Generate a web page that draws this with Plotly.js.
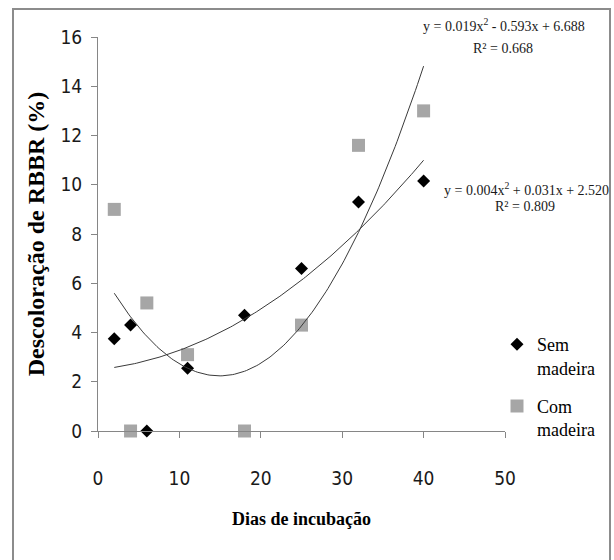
<!DOCTYPE html>
<html>
<head>
<meta charset="utf-8">
<script src="https://cdn.plot.ly/plotly-3.0.1.min.js"></script>
<style>
  html, body { margin: 0; padding: 0; background: #ffffff; }
  #chart { width: 614px; height: 560px; }
</style>
</head>
<body>
<div id="chart"></div>
<script>
// ---- Data ----
const dias = [2, 4, 6, 11, 18, 25, 32, 40];
const semMadeira = [3.75, 4.3, 0, 2.55, 4.7, 6.6, 9.3, 10.15];
const comMadeira = [9.0, 0, 5.2, 3.1, 0, 4.3, 11.6, 13.0];
const seriesNames = ['Sem<br>madeira', 'Com<br>madeira'];
const eqCom = ['y = 0.019x<sup>2</sup> - 0.593x + 6.688', 'R² = 0.668'];
const eqSem = ['y = 0.004x<sup>2</sup> + 0.031x + 2.520', 'R² = 0.809'];
const xTicks = [0, 10, 20, 30, 40, 50];
const yTicks = [0, 2, 4, 6, 8, 10, 12, 14, 16];

// quadratic least-squares fit (Excel polynomial trendline, order 2)
function polyFit2(xs, ys) {
  let S = [0, 0, 0, 0, 0], T = [0, 0, 0];
  for (let i = 0; i < xs.length; i++) {
    let p = 1;
    for (let k = 0; k < 5; k++) { S[k] += p; if (k < 3) T[k] += p * ys[i]; p *= xs[i]; }
  }
  const A = [[S[0], S[1], S[2], T[0]], [S[1], S[2], S[3], T[1]], [S[2], S[3], S[4], T[2]]];
  for (let c = 0; c < 3; c++) {
    for (let r = c + 1; r < 3; r++) {
      const f = A[r][c] / A[c][c];
      for (let k = c; k < 4; k++) A[r][k] -= f * A[c][k];
    }
  }
  const sol = [0, 0, 0];
  for (let r = 2; r >= 0; r--) {
    let s = A[r][3];
    for (let k = r + 1; k < 3; k++) s -= A[r][k] * sol[k];
    sol[r] = s / A[r][r];
  }
  return sol; // [c, b, a]
}
function trend(xs, ys) {
  const co = polyFit2(xs, ys);
  const x0 = Math.min(...xs), x1 = Math.max(...xs);
  const tx = [], ty = [];
  for (let x = x0; x <= x1 + 1e-9; x += 0.25) {
    tx.push(x); ty.push(co[0] + co[1] * x + co[2] * x * x);
  }
  return { tx, ty };
}
const tSem = trend(dias, semMadeira);
const tCom = trend(dias, comMadeira);

const serif = 'Liberation Serif, Times New Roman, serif';
const narrow = 'Liberation Sans Narrow, DejaVu Sans Condensed, Arial Narrow, sans-serif';

const traces = [
  { x: dias, y: semMadeira, type: 'scatter', mode: 'markers', name: seriesNames[0],
    legendgroup: 'a', cliponaxis: false,
    marker: { symbol: 'diamond', size: 10, color: '#000000' } },
  { x: dias, y: comMadeira, type: 'scatter', mode: 'markers', name: seriesNames[1],
    legendgroup: 'b', cliponaxis: false,
    marker: { symbol: 'square', size: 13, color: '#a6a6a6' } },
  { x: tSem.tx, y: tSem.ty, type: 'scatter', mode: 'lines', showlegend: false,
    line: { color: '#3a3a3a', width: 1 }, hoverinfo: 'skip' },
  { x: tCom.tx, y: tCom.ty, type: 'scatter', mode: 'lines', showlegend: false,
    line: { color: '#3a3a3a', width: 1 }, hoverinfo: 'skip' }
];

// plot area in pixels: x 98..505, y 37..431
const L = 98, R = 505, T = 37, B = 431, W = 614, H = 560;
const px = (p) => (p - L) / (R - L);
const py = (p) => (B - p) / (B - T);

const layout = {
  width: W, height: H,
  margin: { l: L, r: W - R, t: T, b: H - B, pad: 0 },
  paper_bgcolor: '#ffffff', plot_bgcolor: '#ffffff',
  showlegend: true,
  xaxis: {
    range: [0, 50], tickvals: xTicks, ticktext: xTicks.map(String),
    showgrid: false, zeroline: false, showline: true, linecolor: '#868686', linewidth: 1,
    ticks: 'outside', ticklen: 6, tickcolor: '#868686', ticklabelstandoff: 24,
    tickfont: { family: narrow, size: 19, color: '#1a1a1a' },
    title: { text: '<b>Dias de incubação</b>', font: { family: serif, size: 18, color: '#000000' }, standoff: 24 },
    fixedrange: true
  },
  yaxis: {
    range: [0, 16], tickvals: yTicks, ticktext: yTicks.map(String),
    showgrid: false, zeroline: false, showline: true, linecolor: '#868686', linewidth: 1,
    ticks: 'outside', ticklen: 6, tickcolor: '#868686', ticklabelstandoff: 5,
    tickfont: { family: narrow, size: 19, color: '#1a1a1a' },
    title: { text: '<b>Descoloração de RBBR (%)</b>', font: { family: serif, size: 24, color: '#000000' }, standoff: 9 },
    fixedrange: true
  },
  legend: {
    x: px(497), y: py(326), xanchor: 'left', yanchor: 'top',
    bgcolor: 'rgba(0,0,0,0)', borderwidth: 0, valign: 'top', tracegroupgap: 12,
    font: { family: 'Liberation Serif', size: 18, color: '#000000' }
  },
  annotations: [
    { xref: 'paper', yref: 'paper', x: px(504), y: py(25), text: eqCom[0], showarrow: false,
      xanchor: 'center', yanchor: 'middle', font: { family: serif, size: 14, color: '#1a1a1a' } },
    { xref: 'paper', yref: 'paper', x: px(503), y: py(49), text: eqCom[1], showarrow: false,
      xanchor: 'center', yanchor: 'middle', font: { family: serif, size: 14, color: '#1a1a1a' } },
    { xref: 'paper', yref: 'paper', x: px(526), y: py(189), text: eqSem[0], showarrow: false,
      xanchor: 'center', yanchor: 'middle', font: { family: serif, size: 14, color: '#1a1a1a' } },
    { xref: 'paper', yref: 'paper', x: px(525), y: py(207), text: eqSem[1], showarrow: false,
      xanchor: 'center', yanchor: 'middle', font: { family: serif, size: 14, color: '#1a1a1a' } }
  ],
  shapes: [
    { type: 'rect', xref: 'paper', yref: 'paper', x0: px(13), x1: px(610), y0: py(575), y1: py(9),
      line: { color: '#8c8c8c', width: 2 }, fillcolor: 'rgba(0,0,0,0)', layer: 'below' }
  ]
};

Plotly.newPlot('chart', traces, layout, { displayModeBar: false, staticPlot: true });
</script>
</body>
</html>
